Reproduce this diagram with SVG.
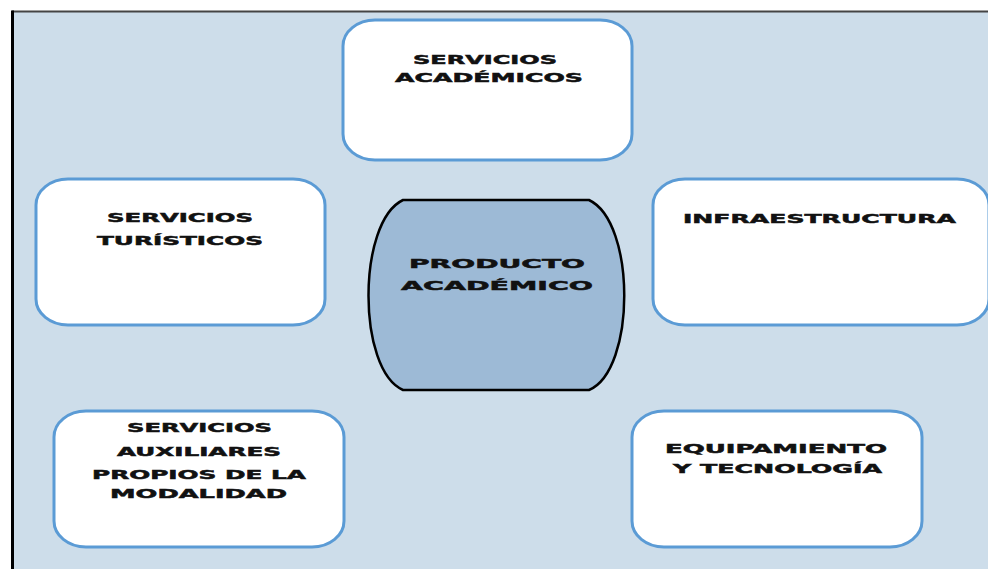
<svg xmlns="http://www.w3.org/2000/svg" width="988" height="569" viewBox="0 0 988 569">
<style>
.box{fill:#FFFFFF;stroke:#5B9BD5;stroke-width:3}
.t{font-family:"DejaVu Sans","Liberation Sans",sans-serif;font-weight:bold;font-size:13px;fill:#111111;stroke:#111111;stroke-width:0.5}
</style>
<rect x="0" y="0" width="988" height="569" fill="#FFFFFF"/>
<rect x="12" y="12" width="980" height="560" fill="#CDDDEA"/>
<line x1="12" y1="11.5" x2="988" y2="11.5" stroke="#444444" stroke-width="2"/>
<line x1="12.5" y1="10.5" x2="12.5" y2="569" stroke="#000000" stroke-width="3"/>
<g id="servicios-academicos">
<rect class="box" x="343" y="20" width="289" height="140" rx="32" ry="26"/>
<text class="t" x="413" y="64" textLength="144" lengthAdjust="spacingAndGlyphs">SERVICIOS</text>
<text class="t" x="395" y="82" textLength="188" lengthAdjust="spacingAndGlyphs">ACADÉMICOS</text>
</g>
<g id="servicios-turisticos">
<rect class="box" x="36" y="179" width="289" height="146" rx="32" ry="26"/>
<text class="t" x="107" y="222" textLength="146" lengthAdjust="spacingAndGlyphs">SERVICIOS</text>
<text class="t" x="97" y="245" textLength="166" lengthAdjust="spacingAndGlyphs">TURÍSTICOS</text>
</g>
<g id="infraestructura">
<rect class="box" x="653" y="179" width="336" height="146" rx="32" ry="26"/>
<text class="t" x="683" y="223" textLength="273" lengthAdjust="spacingAndGlyphs">INFRAESTRUCTURA</text>
</g>
<g id="producto-academico">
<path d="M403,200 L589,200 C636,222 636,370 589,390 L403,390 C357,370 357,222 403,200 Z" fill="#9DBAD6" stroke="#000000" stroke-width="2.5"/>
<text class="t" x="409" y="268" textLength="176" lengthAdjust="spacingAndGlyphs">PRODUCTO</text>
<text class="t" x="401" y="290" textLength="192" lengthAdjust="spacingAndGlyphs">ACADÉMICO</text>
</g>
<g id="servicios-auxiliares">
<rect class="box" x="54" y="411" width="290" height="136" rx="32" ry="26"/>
<text class="t" x="127" y="432" textLength="145" lengthAdjust="spacingAndGlyphs">SERVICIOS</text>
<text class="t" x="117" y="456" textLength="164" lengthAdjust="spacingAndGlyphs">AUXILIARES</text>
<text class="t" x="92" y="479" textLength="214" lengthAdjust="spacingAndGlyphs">PROPIOS DE LA</text>
<text class="t" x="110" y="498" textLength="177" lengthAdjust="spacingAndGlyphs">MODALIDAD</text>
</g>
<g id="equipamiento-tecnologia">
<rect class="box" x="632" y="411" width="290" height="136" rx="32" ry="26"/>
<text class="t" x="665" y="453" textLength="222" lengthAdjust="spacingAndGlyphs">EQUIPAMIENTO</text>
<text class="t" x="673" y="473" textLength="209" lengthAdjust="spacingAndGlyphs">Y TECNOLOGÍA</text>
</g>
<g id="connectors"></g>
</svg>
